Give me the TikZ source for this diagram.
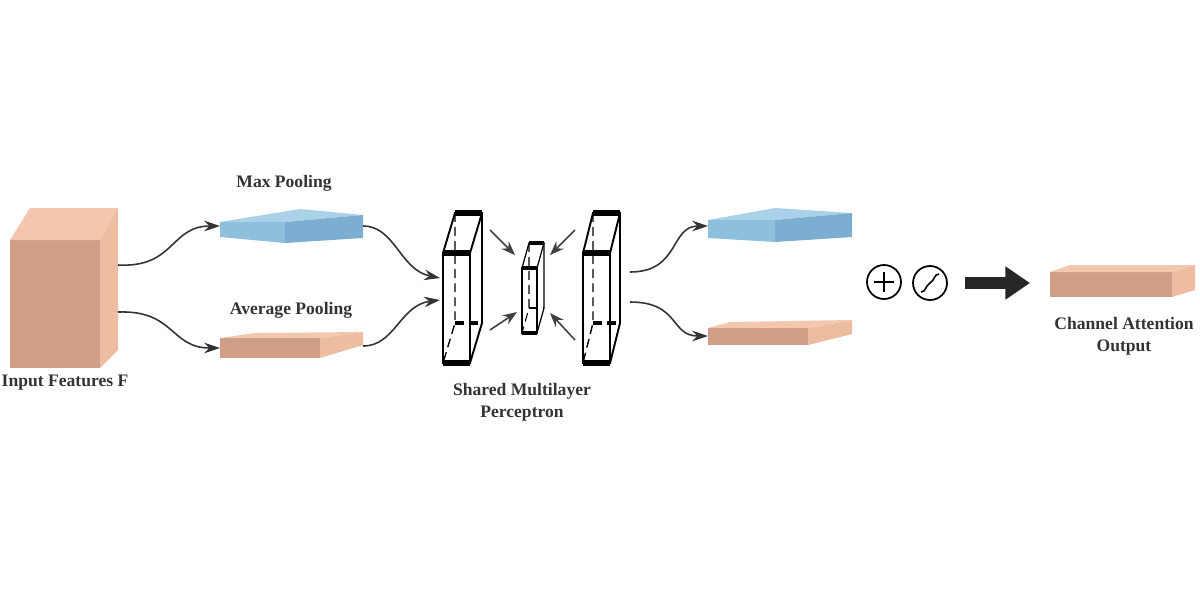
\documentclass[tikz,border=0pt]{standalone}
\usepackage{fontspec}
\setmainfont{Liberation Serif}
\usetikzlibrary{arrows.meta}
\definecolor{pf}{HTML}{CF9E86}
\definecolor{pt}{HTML}{F3C7AE}
\definecolor{ps}{HTML}{EDBDA2}
\definecolor{bt}{HTML}{A9D2E8}
\definecolor{bf}{HTML}{8DC0DD}
\definecolor{bs}{HTML}{7CAED2}
\definecolor{tx}{HTML}{333333}
\begin{document}
\begin{tikzpicture}[x=0.02cm,y=-0.02cm,
  lbl/.style={font=\bfseries\fontsize{10pt}{12.5pt}\selectfont,text=tx,align=center},
  conn/.style={-{Stealth[length=9pt,width=6pt]},line width=0.9pt,draw=black!80},
  small/.style={-{Stealth[length=8pt,width=6pt]},line width=0.9pt,draw=black!75},
  hid/.style={dash pattern=on 5pt off 3pt,line width=0.8pt}]
\useasboundingbox (0,0) rectangle (1200,600);
% input cube
\fill[pf] (10,240) rectangle (100,368);
\fill[pt] (10,240) -- (30,208) -- (118,208) -- (100,240) -- cycle;
\fill[ps] (100,240) -- (118,208) -- (118,350) -- (100,368) -- cycle;
\coordinate (in1) at (118,265); \coordinate (in2) at (118,312);
\node[lbl] (lin) at (65,383) {Input Features F};
% max pooling slab
\fill[bt] (220,222) -- (300,209) -- (363,215) -- (285,222) -- cycle;
\fill[bf] (220,222) -- (285,222) -- (285,243) -- (220,237) -- cycle;
\fill[bs] (285,222) -- (363,215) -- (363,238) -- (285,243) -- cycle;
\coordinate (mxi) at (220,226); \coordinate (mxo) at (363,226);
\node[lbl] (lmx) at (284,183) {Max Pooling};
% avg pooling slab
\fill[pt] (220,338) -- (255,333) -- (363,332) -- (320,338) -- cycle;
\fill[pf] (220,338) -- (320,338) -- (320,358) -- (220,358) -- cycle;
\fill[ps] (320,338) -- (363,332) -- (363,345) -- (320,358) -- cycle;
\coordinate (avi) at (220,348); \coordinate (avo) at (363,346);
\node[lbl] (lav) at (291,310) {Average Pooling};
% MLP blocks
\foreach \nm/\x/\w/\h/\dx/\dy in {L/443/27/110/12/40,R/583/27/110/10/40}{
  \draw[line width=1.1pt] (\x,253) rectangle ++(\w,\h);
  \draw[line width=1.1pt] (\x,253) -- ++(\dx,-\dy) -- ++(\w,0) -- ++(-\dx,\dy);
  \draw[line width=1.1pt] (\x+\w+\dx,253-\dy) -- (\x+\w+\dx,253+\h-\dy) -- (\x+\w,253+\h);
  \draw[line width=3pt] (\x,253) -- ++(\w,0);
  \draw[line width=3pt] (\x,253+\h) -- ++(\w,0);
  \draw[line width=3pt] (\x+\dx,253-\dy) -- ++(\w,0);
  \draw[hid] (\x+\dx,253-\dy) -- (\x+\dx,253+\h-\dy) -- (\x,253+\h);
  \draw[hid,line width=2pt] (\x+\dx,253+\h-\dy) -- ++(\w,0);
}
\draw[line width=0.7pt] (522,268) rectangle (537,333);
\draw[line width=0.7pt] (522,268) -- (529,243) -- (544,243) -- (537,268);
\draw[line width=0.7pt] (544,243) -- (544,308) -- (537,333);
\draw[line width=2pt] (522,268) -- (537,268); \draw[line width=2pt] (522,333) -- (537,333);
\draw[line width=2pt] (529,243) -- (544,243);
\draw[hid,line width=0.6pt] (529,243) -- (529,308) -- (522,333);
\draw[hid,line width=1.6pt] (529,308) -- (544,308);
\coordinate (Li1) at (440,278); \coordinate (Li2) at (440,300);
\coordinate (Ro1) at (630,272); \coordinate (Ro2) at (630,302);
\node[lbl] (lmlp) at (522,402) {Shared Multilayer\\Perceptron};
% small arrows
\coordinate (a1) at (490,230); \coordinate (a1e) at (515,255);
\coordinate (a2) at (490,330); \coordinate (a2e) at (517,312);
\coordinate (a3) at (575,230); \coordinate (a3e) at (550,255);
\coordinate (a4) at (575,340); \coordinate (a4e) at (550,313);
\foreach \s/\e in {a1/a1e,a2/a2e,a3/a3e,a4/a4e} \draw[small] (\s) -- (\e);
% right slabs
\fill[bt] (708,220) -- (775,208) -- (852,213) -- (775,220) -- cycle;
\fill[bf] (708,220) -- (775,220) -- (775,242) -- (708,238) -- cycle;
\fill[bs] (775,220) -- (852,213) -- (852,237) -- (775,242) -- cycle;
\coordinate (rbi) at (708,226);
\fill[pt] (708,328) -- (730,322) -- (852,320) -- (808,328) -- cycle;
\fill[pf] (708,328) -- (808,328) -- (808,345) -- (708,345) -- cycle;
\fill[ps] (808,328) -- (852,320) -- (852,334) -- (808,345) -- cycle;
\coordinate (rpi) at (708,336);
% connectors
\draw[conn] (in1) .. controls (175,268) and (170,226) .. (mxi);
\draw[conn] (in2) .. controls (175,310) and (170,348) .. (avi);
\draw[conn] (mxo) .. controls (395,226) and (400,270) .. (Li1);
\draw[conn] (avo) .. controls (395,346) and (400,305) .. (Li2);
\draw[conn] (Ro1) .. controls (680,272) and (670,226) .. (rbi);
\draw[conn] (Ro2) .. controls (680,302) and (670,336) .. (rpi);
% operators
\node[circle,draw,line width=1pt,inner sep=0pt,minimum size=0.68cm] (plus) at (884,282) {};
\draw[line width=1pt] (874,282) -- (894,282) (884,272) -- (884,292);
\node[circle,draw,line width=1pt,inner sep=0pt,minimum size=0.68cm] (sig) at (930,283) {};
\draw[line width=0.9pt] (921,292) .. controls (926,292) and (925,286) .. (930,283) .. controls (935,280) and (934,274) .. (939,274);
\coordinate (ba) at (965,283); \coordinate (bb) at (1030,283);
\draw[-{Triangle[length=14pt,width=18pt]},line width=7pt,draw=black!85] (ba) -- (bb);
% output
\fill[pf] (1050,272) rectangle (1172,297);
\fill[pt] (1050,272) -- (1070,265) -- (1195,265) -- (1172,272) -- cycle;
\fill[ps] (1172,272) -- (1195,265) -- (1195,290) -- (1172,297) -- cycle;
\node[lbl] (lout) at (1124,336) {Channel Attention\\Output};
\end{tikzpicture}
\end{document}
